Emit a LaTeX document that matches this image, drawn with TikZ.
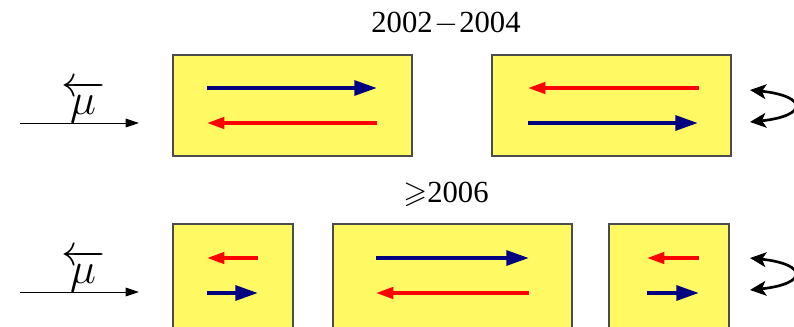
\RequirePackage{fix-cm}
\documentclass[tikz,border=0pt]{standalone}
\usepackage{amssymb}
\usepackage{fontspec}
\setmainfont{Liberation Serif}
\usetikzlibrary{arrows.meta}
\definecolor{boxyellow}{RGB}{255,250,100}
\definecolor{navyblue}{RGB}{0,0,128}
\begin{document}
\begin{tikzpicture}[x=0.75pt,y=-0.75pt,
  panel/.style={draw=black!70,line width=0.8pt,fill=boxyellow},
  bluearr/.style={draw=navyblue,line width=3pt,-{Triangle[length=17pt,width=11pt]}},
  redarr/.style={draw=red,line width=2.6pt,-{Triangle[length=13pt,width=8.5pt]}},
  beam/.style={draw=black,line width=0.7pt,-{Triangle[length=10pt,width=6.5pt]}},
  flip/.style={draw=black,line width=2pt,{Stealth[length=12pt,width=11pt,inset=3pt]}-{Stealth[length=12pt,width=11pt,inset=3pt]}},
  yr/.style={font=\fontsize{23}{25}\selectfont,anchor=base},
  mulab/.style={font=\fontsize{33}{35}\selectfont,anchor=base,inner sep=0pt}]
\useasboundingbox (0,0) rectangle (794,326);
\clip (0,0) rectangle (794,326);
% titles
\node[yr] (t1) at (446,32) {2002\hspace{1pt}$-$\hspace{1pt}2004};
\node[yr] (t2) at (446,202) {$\geqslant$2006};
% top row
\draw[panel] (173,55) rectangle (412,156);
\draw[panel] (492,55) rectangle (731,156);
\coordinate (a1s) at (207,88); \coordinate (a1e) at (377,88);
\coordinate (a2s) at (377,123); \coordinate (a2e) at (207,123);
\coordinate (a3s) at (699,88); \coordinate (a3e) at (528,88);
\coordinate (a4s) at (528,123); \coordinate (a4e) at (698,123);
\draw[bluearr] (a1s) -- (a1e);
\draw[redarr] (a2s) -- (a2e);
\draw[redarr] (a3s) -- (a3e);
\draw[bluearr] (a4s) -- (a4e);
% bottom row
\draw[panel] (173,224) rectangle (293,340);
\draw[panel] (333,224) rectangle (572,340);
\draw[panel] (609,224) rectangle (729,340);
\coordinate (b1s) at (258,258); \coordinate (b1e) at (207,258);
\coordinate (b2s) at (207,293); \coordinate (b2e) at (258,293);
\coordinate (b3s) at (376,258); \coordinate (b3e) at (529,258);
\coordinate (b4s) at (529,293); \coordinate (b4e) at (376,293);
\coordinate (b5s) at (699,258); \coordinate (b5e) at (647,258);
\coordinate (b6s) at (647,293); \coordinate (b6e) at (699,293);
\draw[redarr] (b1s) -- (b1e);
\draw[bluearr] (b2s) -- (b2e);
\draw[bluearr] (b3s) -- (b3e);
\draw[redarr] (b4s) -- (b4e);
\draw[redarr] (b5s) -- (b5e);
\draw[bluearr] (b6s) -- (b6e);
% beams
\coordinate (m1s) at (20,123); \coordinate (m1e) at (139,123);
\coordinate (m2s) at (20,292); \coordinate (m2e) at (139,292);
\draw[beam] (m1s) -- (m1e);
\draw[beam] (m2s) -- (m2e);
\node[mulab] (mu1) at (83,114) {$\overleftarrow{\makebox[29pt]{$\mu$}}$};
\node[mulab] (mu2) at (83,283) {$\overleftarrow{\makebox[29pt]{$\mu$}}$};
% flip arrows
\coordinate (f1a) at (750,90); \coordinate (f1b) at (750,122);
\coordinate (f2a) at (750,258); \coordinate (f2b) at (750,290);
\draw[flip] (f1a) .. controls (808,96) and (808,116) .. (f1b);
\draw[flip] (f2a) .. controls (808,264) and (808,284) .. (f2b);
\end{tikzpicture}
\end{document}
